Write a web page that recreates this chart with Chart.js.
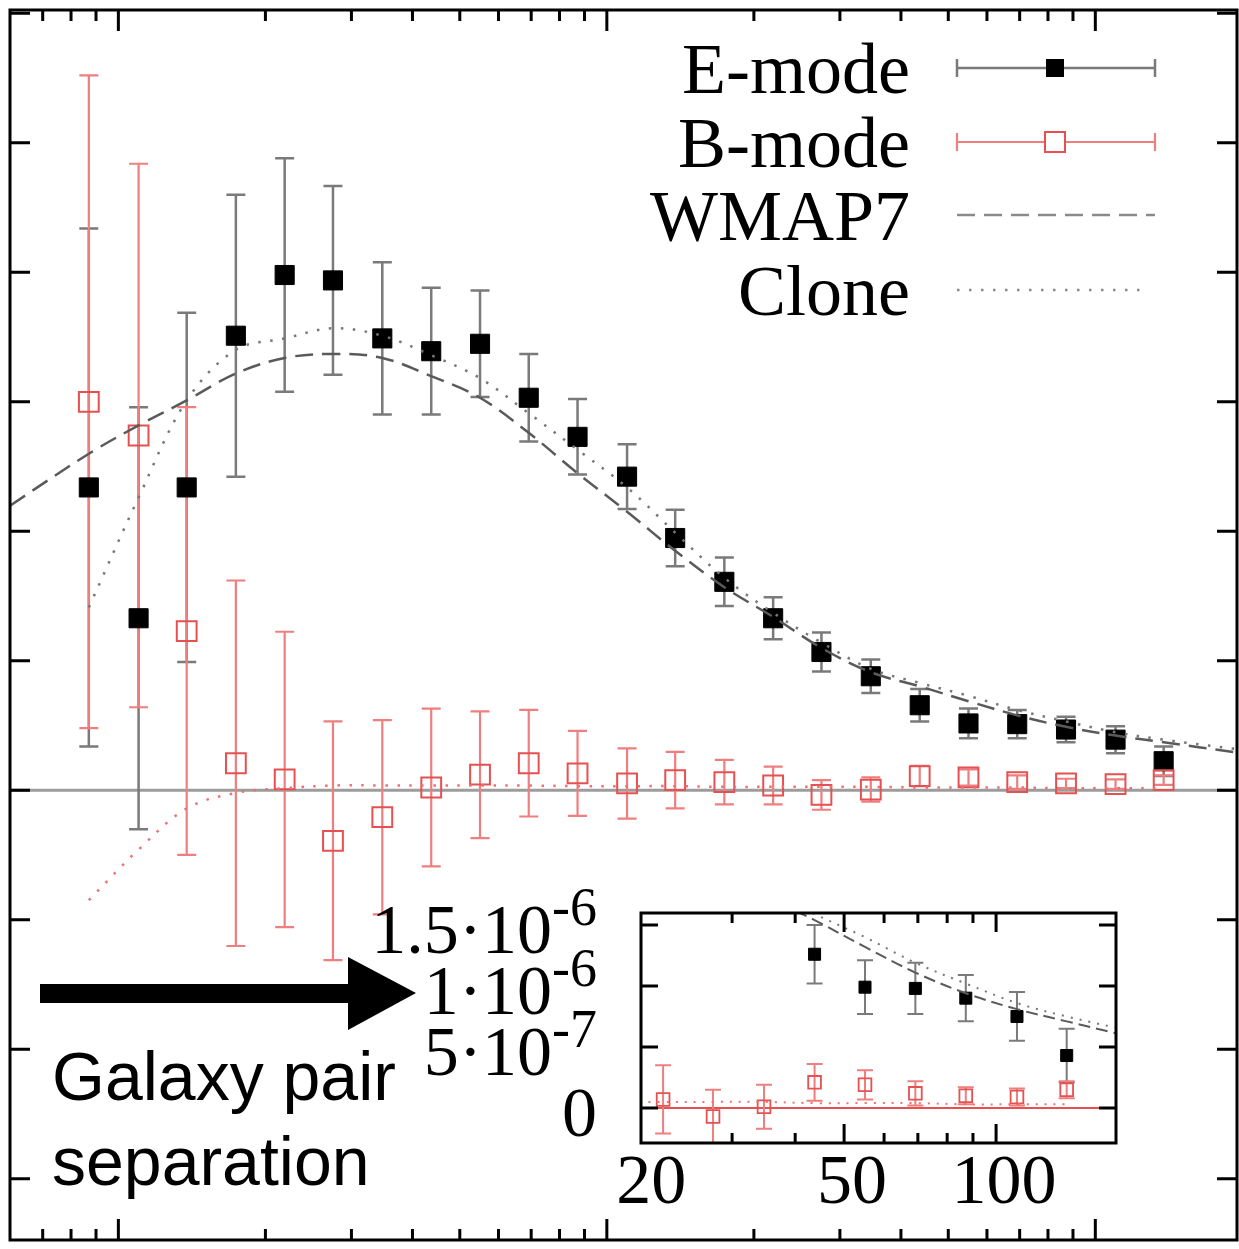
<!DOCTYPE html>
<html>
<head>
<meta charset="utf-8">
<script src="https://cdn.jsdelivr.net/npm/chart.js@4.4.1/dist/chart.umd.min.js"></script>
<style>
  html, body { margin: 0; padding: 0; background: #fff; }
  #wrap { position: relative; width: 1239px; height: 1249px; overflow: hidden; }
  #main { position: absolute; left: 0; top: 0; }
  #inset { position: absolute; left: 340px; top: 870px; }
</style>
</head>
<body>
<div id="wrap">
  <canvas id="main" width="1239" height="1249"></canvas>
  <canvas id="inset" width="800" height="360"></canvas>
</div>
<script>
// galaxy pair separation bins (arcmin)
var theta = [0.87, 1.10, 1.38, 1.74, 2.19, 2.75, 3.47, 4.37, 5.50, 6.92, 8.71, 11.0,
             13.8, 17.4, 21.9, 27.5, 34.7, 43.7, 55.0, 69.2, 87.1, 110, 138];

// measured correlations, in units of 1e-6
var eMode = [4.49, 2.55, 4.49, 6.74, 7.64, 7.56, 6.70, 6.51, 6.62, 5.82, 5.24, 4.65,
             3.74, 3.09, 2.55, 2.05, 1.69, 1.26, 0.99, 0.98, 0.90, 0.75, 0.43];
var eErr  = [3.84, 3.13, 2.59, 2.09, 1.73, 1.40, 1.13, 0.94, 0.79, 0.65, 0.56, 0.48,
             0.42, 0.36, 0.31, 0.29, 0.25, 0.24, 0.22, 0.21, 0.19, 0.20, 0.22];
var bMode = [5.76, 5.26, 2.36, 0.40, 0.16, -0.75, -0.40, 0.04, 0.23, 0.40, 0.25, 0.10,
             0.15, 0.12, 0.07, -0.07, 0.01, 0.21, 0.19, 0.12, 0.10, 0.09, 0.15];
var bErr  = [4.84, 4.03, 3.32, 2.71, 2.19, 1.77, 1.44, 1.17, 0.94, 0.79, 0.63, 0.52,
             0.42, 0.33, 0.28, 0.22, 0.18, 0.15, 0.12, 0.10, 0.07, 0.07, 0.07];

// model curves
var wmapTheta = [0.6, 0.87, 1.10, 1.38, 1.74, 2.19, 2.75, 3.47, 4.37, 5.50, 6.92, 8.71, 11.0,
                 13.8, 17.4, 21.9, 27.5, 34.7, 43.7, 55.0, 69.2, 87.1, 110, 138, 195];
var wmap7 = [4.22, 4.99, 5.41, 5.78, 6.18, 6.41, 6.47, 6.41, 6.14, 5.82, 5.30, 4.70, 4.13,
             3.55, 3.01, 2.57, 2.11, 1.75, 1.54, 1.32, 1.11, 0.94, 0.81, 0.71, 0.56];
var cloneTheta = [0.87, 1.10, 1.38, 1.74, 2.19, 2.75, 3.47, 4.37, 5.50, 6.92, 8.71, 11.0,
                  13.8, 17.4, 21.9, 27.5, 34.7, 43.7, 55.0, 69.2, 87.1, 110, 138, 195];
var cloneE = [2.71, 4.34, 5.78, 6.53, 6.70, 6.85, 6.74, 6.45, 6.11, 5.59, 5.05, 4.49,
              3.82, 3.15, 2.63, 2.19, 1.80, 1.59, 1.40, 1.19, 1.02, 0.86, 0.75, 0.61];
var cloneB = [-1.63, -0.88, -0.27, -0.04, 0.03, 0.07, 0.07, 0.07, 0.07, 0.07, 0.06, 0.06,
              0.06, 0.05, 0.05, 0.05, 0.05, 0.04, 0.04, 0.04, 0.03, 0.03, 0.03];

// main axes (no labels shown)
var mainXMin = 0.6, mainXMax = 195;
var mainYMin = -6.67, mainYMax = 11.57, mainTickStep = 1.92;
var xMajor = [1, 10, 100];
var xMinor = [0.7, 0.8, 0.9, 2, 3, 4, 5, 6, 7, 8, 9, 20, 30, 40, 50, 60, 70, 80, 90];

// inset axes
var insetXMin = 19.8, insetXMax = 172.8, insetYMin = -0.287, insetYMax = 1.598;
var insetXTicks = [20, 50, 100];
var insetXMinor = [30, 40, 60, 70, 80, 90];
var insetYTicks = [0, 0.5, 1.0, 1.5];
var insetYLabels = [["0", ""], ["5\u00b710", "-7"], ["1\u00b710", "-6"], ["1.5\u00b710", "-6"]];

var legendNames = ["E-mode", "B-mode", "WMAP7", "Clone"];

var SERIF = '"Liberation Serif", "DejaVu Serif", serif';
var SANS = '"Liberation Sans", Arial, sans-serif';
var E_BAR = '#7a7a7a', B_BAR = '#ef7f7f', B_BOX = '#e65050';

function pts(xs, ys) {
  return xs.map(function (x, i) { return {x: x, y: ys[i]}; });
}

function drawErrorBars(chart, xs, ys, errs, color, lw, cap) {
  var ctx = chart.ctx, xa = chart.scales.x, ya = chart.scales.y, a = chart.chartArea;
  ctx.save();
  ctx.beginPath();
  ctx.rect(a.left, a.top, a.right - a.left, a.bottom - a.top);
  ctx.clip();
  ctx.strokeStyle = color;
  ctx.lineWidth = lw;
  for (var i = 0; i < xs.length; i++) {
    // like gnuplot: skip points whose centre is out of range
    if (ys[i] < ya.min || ys[i] > ya.max || xs[i] < xa.min || xs[i] > xa.max) continue;
    var px = xa.getPixelForValue(xs[i]);
    var top = ya.getPixelForValue(ys[i] + errs[i]);
    var bot = ya.getPixelForValue(ys[i] - errs[i]);
    ctx.beginPath();
    ctx.moveTo(px, top); ctx.lineTo(px, bot);
    ctx.moveTo(px - cap, top); ctx.lineTo(px + cap, top);
    ctx.moveTo(px - cap, bot); ctx.lineTo(px + cap, bot);
    ctx.stroke();
  }
  ctx.restore();
}

function drawFrameAndTicks(chart, xMaj, xMin, yVals, majLen, minLen, yLen, lw) {
  var ctx = chart.ctx, xa = chart.scales.x, ya = chart.scales.y, a = chart.chartArea;
  ctx.save();
  ctx.strokeStyle = '#000';
  ctx.lineWidth = lw;
  ctx.beginPath();
  xMaj.concat(xMin).forEach(function (v, i) {
    if (v <= xa.min || v >= xa.max) return;
    var len = i < xMaj.length ? majLen : minLen;
    var px = xa.getPixelForValue(v);
    ctx.moveTo(px, a.bottom); ctx.lineTo(px, a.bottom - len);
    ctx.moveTo(px, a.top); ctx.lineTo(px, a.top + len);
  });
  yVals.forEach(function (v) {
    if (v <= ya.min || v >= ya.max) return;
    var py = ya.getPixelForValue(v);
    ctx.moveTo(a.left, py); ctx.lineTo(a.left + yLen, py);
    ctx.moveTo(a.right, py); ctx.lineTo(a.right - yLen, py);
  });
  ctx.stroke();
  ctx.strokeRect(a.left, a.top, a.right - a.left, a.bottom - a.top);
  ctx.restore();
}

function zeroLine(chart, color, lw) {
  var ctx = chart.ctx, ya = chart.scales.y, a = chart.chartArea;
  var py = ya.getPixelForValue(0);
  ctx.save();
  ctx.strokeStyle = color;
  ctx.lineWidth = lw;
  ctx.beginPath();
  ctx.moveTo(a.left, py); ctx.lineTo(a.right, py);
  ctx.stroke();
  ctx.restore();
}

function curveSets(lw, dashA, dashB) {
  return [
    {label: 'WMAP7', data: pts(wmapTheta, wmap7), showLine: true, pointRadius: 0,
     borderColor: '#5a5a5a', borderWidth: lw, borderDash: dashA, tension: 0.35, order: 0},
    {label: 'Clone', data: pts(cloneTheta, cloneE), showLine: true, pointRadius: 0,
     borderColor: '#777', borderWidth: lw, borderDash: dashB, tension: 0.35, order: 0},
    {label: 'Clone B', data: pts(theta, cloneB), showLine: true, pointRadius: 0,
     borderColor: '#ee7070', borderWidth: lw, borderDash: dashB, tension: 0.35, order: 0}
  ];
}

// ---------- main chart ----------
var mainYTicks = [];
for (var k = -3; k <= 6; k++) mainYTicks.push(k * mainTickStep);

var mainPlugin = {
  id: 'mainDecor',
  beforeDatasetsDraw: function (chart) {
    zeroLine(chart, '#9c9c9c', 3);
    drawErrorBars(chart, theta, eMode, eErr, E_BAR, 2.5, 9.5);
    drawErrorBars(chart, theta, bMode, bErr, B_BAR, 2.2, 9.5);
  },
  afterDraw: function (chart) {
    var ctx = chart.ctx;
    drawFrameAndTicks(chart, xMajor, xMinor, mainYTicks, 21, 11, 20, 3);

    // legend
    var rows = [68, 142, 215, 290];
    ctx.save();
    ctx.fillStyle = '#000';
    ctx.font = '72px ' + SERIF;
    ctx.textAlign = 'right';
    ctx.textBaseline = 'alphabetic';
    legendNames.forEach(function (n, i) { ctx.fillText(n, 910, rows[i] + 25); });
    var x0 = 957, x1 = 1155, xm = 1055;
    // E-mode sample
    ctx.strokeStyle = E_BAR; ctx.lineWidth = 2.5;
    ctx.beginPath();
    ctx.moveTo(x0, rows[0]); ctx.lineTo(x1, rows[0]);
    ctx.moveTo(x0, rows[0] - 9); ctx.lineTo(x0, rows[0] + 9);
    ctx.moveTo(x1, rows[0] - 9); ctx.lineTo(x1, rows[0] + 9);
    ctx.stroke();
    ctx.fillStyle = '#000';
    ctx.fillRect(xm - 9, rows[0] - 9, 18, 18);
    // B-mode sample
    ctx.strokeStyle = B_BAR; ctx.lineWidth = 2.2;
    ctx.beginPath();
    ctx.moveTo(x0, rows[1]); ctx.lineTo(x1, rows[1]);
    ctx.moveTo(x0, rows[1] - 9); ctx.lineTo(x0, rows[1] + 9);
    ctx.moveTo(x1, rows[1] - 9); ctx.lineTo(x1, rows[1] + 9);
    ctx.stroke();
    ctx.fillStyle = '#fff';
    ctx.fillRect(xm - 10, rows[1] - 10, 20, 20);
    ctx.strokeStyle = B_BOX; ctx.lineWidth = 2;
    ctx.strokeRect(xm - 10, rows[1] - 10, 20, 20);
    // WMAP7 sample
    ctx.strokeStyle = '#8a8a8a'; ctx.lineWidth = 2.5;
    ctx.setLineDash([18, 9]);
    ctx.beginPath(); ctx.moveTo(x0, rows[2]); ctx.lineTo(x1, rows[2]); ctx.stroke();
    // Clone sample
    ctx.strokeStyle = '#8a8a8a';
    ctx.setLineDash([2.5, 9.5]);
    ctx.beginPath(); ctx.moveTo(x0, rows[3]); ctx.lineTo(x1 - 10, rows[3]); ctx.stroke();
    ctx.setLineDash([]);

    // annotation: arrow and caption
    ctx.fillStyle = '#000';
    ctx.beginPath();
    ctx.moveTo(40, 984); ctx.lineTo(348, 984); ctx.lineTo(348, 957);
    ctx.lineTo(416, 993); ctx.lineTo(348, 1030); ctx.lineTo(348, 1003);
    ctx.lineTo(40, 1003); ctx.closePath();
    ctx.fill();
    ctx.font = '68px ' + SANS;
    ctx.textAlign = 'left';
    ctx.fillText('Galaxy pair', 52, 1100);
    ctx.fillText('separation', 52, 1185);
    ctx.restore();
  }
};

new Chart(document.getElementById('main'), {
  type: 'scatter',
  data: {
    datasets: curveSets(2.5, [18, 9], [2.5, 9.5]).concat([
      {label: 'B-mode', data: pts(theta, bMode), pointStyle: 'rect', pointRadius: 14,
       pointBackgroundColor: 'rgba(255,255,255,0)', pointBorderColor: B_BOX, pointBorderWidth: 2, order: 1},
      {label: 'E-mode', data: pts(theta, eMode), pointStyle: 'rect', pointRadius: 13.5,
       pointBackgroundColor: '#000', pointBorderColor: '#000', pointBorderWidth: 1, order: 2}
    ])
  },
  options: {
    responsive: false, animation: false, devicePixelRatio: 1,
    layout: {autoPadding: false, padding: {left: 10, top: 10, right: 2, bottom: 9}},
    plugins: {legend: {display: false}, tooltip: {enabled: false}},
    scales: {
      x: {type: 'logarithmic', min: mainXMin, max: mainXMax, bounds: 'data', display: false},
      y: {type: 'linear', min: mainYMin, max: mainYMax, bounds: 'data', display: false}
    }
  },
  plugins: [mainPlugin]
});

// ---------- inset ----------
var insetPlugin = {
  id: 'insetDecor',
  beforeDatasetsDraw: function (chart) {
    var ctx = chart.ctx, a = chart.chartArea;
    ctx.save();
    ctx.fillStyle = '#fff';
    ctx.fillRect(a.left, a.top, a.right - a.left, a.bottom - a.top);
    ctx.restore();
    zeroLine(chart, B_BOX, 2);
    drawErrorBars(chart, theta, eMode, eErr, E_BAR, 2, 8);
    drawErrorBars(chart, theta, bMode, bErr, B_BAR, 2, 8);
  },
  afterDraw: function (chart) {
    var ctx = chart.ctx, ya = chart.scales.y;
    drawFrameAndTicks(chart, [50, 100], insetXMinor, insetYTicks, 19, 10, 17, 3);
    var right = 257;
    ctx.save();
    ctx.fillStyle = '#000';
    ctx.textAlign = 'right';
    ctx.textBaseline = 'alphabetic';
    insetYTicks.forEach(function (v, i) {
      var base = ya.getPixelForValue(v) + 28;
      var lab = insetYLabels[i];
      var sw = 0;
      if (lab[1]) {
        ctx.font = '54px ' + SERIF;
        sw = ctx.measureText(lab[1]).width;
        ctx.fillText(lab[1], right, base - 28);
      }
      ctx.font = '70px ' + SERIF;
      ctx.fillText(lab[0], right - sw, base);
    });
    ctx.restore();
  }
};

new Chart(document.getElementById('inset'), {
  type: 'scatter',
  data: {
    datasets: curveSets(2, [12, 6], [2, 7]).concat([
      {label: 'B-mode', data: pts(theta, bMode), pointStyle: 'rect', pointRadius: 9,
       pointBackgroundColor: 'rgba(255,255,255,0)', pointBorderColor: B_BOX, pointBorderWidth: 1.8, order: 1},
      {label: 'E-mode', data: pts(theta, eMode), pointStyle: 'rect', pointRadius: 8.5,
       pointBackgroundColor: '#000', pointBorderColor: '#000', pointBorderWidth: 1, order: 2}
    ])
  },
  options: {
    responsive: false, animation: false, devicePixelRatio: 1,
    layout: {autoPadding: false, padding: {left: 301, top: 43, right: 24, bottom: 0}},
    plugins: {legend: {display: false}, tooltip: {enabled: false}},
    scales: {
      x: {
        type: 'logarithmic', min: insetXMin, max: insetXMax, bounds: 'data', position: 'bottom',
        afterBuildTicks: function (s) { s.ticks = insetXTicks.map(function (v) { return {value: v}; }); },
        afterFit: function (s) { s.height = 87; },
        grid: {display: false, drawTicks: false},
        border: {display: false},
        ticks: {autoSkip: false, maxRotation: 0, padding: 0, labelOffset: 8, color: '#000',
                font: {family: SERIF, size: 70},
                callback: function (v) { return String(v); }}
      },
      y: {type: 'linear', min: insetYMin, max: insetYMax, bounds: 'data', display: false}
    }
  },
  plugins: [insetPlugin]
});
</script>
</body>
</html>
